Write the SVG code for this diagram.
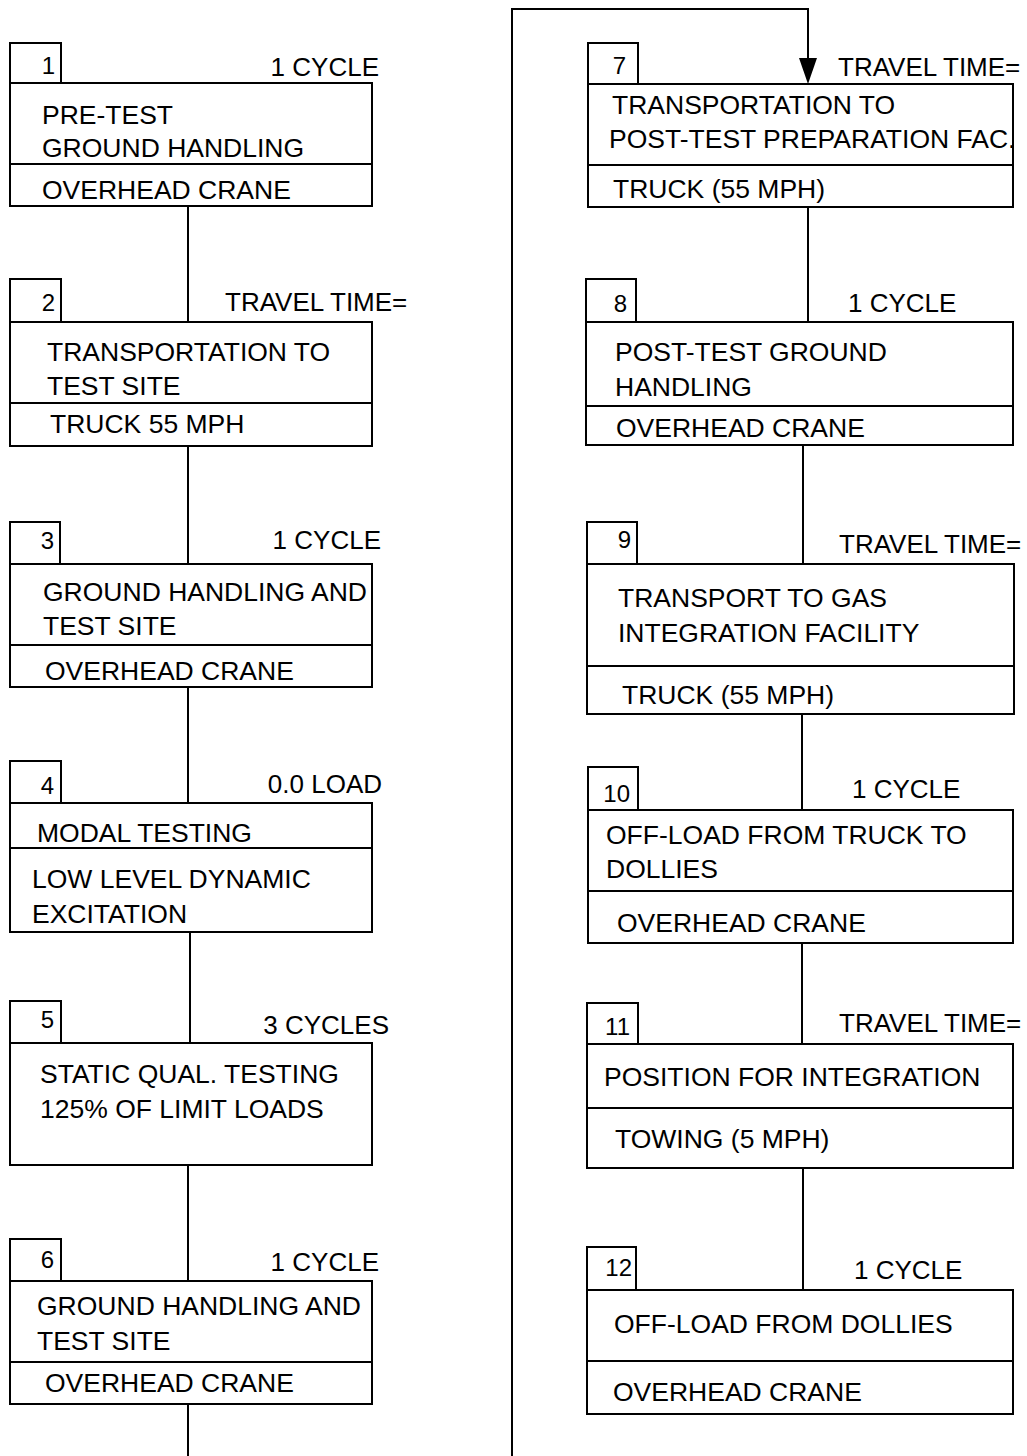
<svg xmlns="http://www.w3.org/2000/svg" width="1027" height="1456" viewBox="0 0 1027 1456">
<style>
.b{fill:#fff;stroke:#000;stroke-width:2}
.d{stroke:#000;stroke-width:2}
.t{font-family:"Liberation Sans",Arial,sans-serif;font-size:26.5px;fill:#000}
.l{font-family:"Liberation Sans",Arial,sans-serif;font-size:26px;fill:#000}
.n{font-family:"Liberation Sans",Arial,sans-serif;font-size:24px;fill:#000;text-anchor:end}
.e{text-anchor:end}
.c{fill:none;stroke:#000;stroke-width:2}
</style>
<rect width="1027" height="1456" fill="#fff"/>
<g id="connectors">
<line class="c" x1="188" y1="206" x2="188" y2="322"/>
<line class="c" x1="188" y1="446" x2="188" y2="564"/>
<line class="c" x1="188" y1="687" x2="188" y2="803"/>
<line class="c" x1="190" y1="932" x2="190" y2="1043"/>
<line class="c" x1="188" y1="1165" x2="188" y2="1281"/>
<line class="c" x1="188" y1="1404" x2="188" y2="1456"/>
<path class="c" d="M512,1456 V9 H808 V58"/>
<path d="M799,58 L817,58 L808,84 Z" fill="#000"/>
<line class="c" x1="808" y1="207" x2="808" y2="322"/>
<line class="c" x1="803" y1="445" x2="803" y2="564"/>
<line class="c" x1="802" y1="714" x2="802" y2="810"/>
<line class="c" x1="802" y1="943" x2="802" y2="1044"/>
<line class="c" x1="803" y1="1168" x2="803" y2="1290"/>
</g>
<g id="node1">
<rect class="b" x="10" y="43" width="51" height="40"/>
<rect class="b" x="10" y="83" width="362" height="123"/>
<line class="d" x1="10" y1="164" x2="372" y2="164"/>
<text class="n" x="55" y="74">1</text>
<text class="l e" x="379" y="76">1 CYCLE</text>
<text class="t" x="42" y="124">PRE-TEST</text>
<text class="t" x="42" y="157">GROUND HANDLING</text>
<text class="t" x="42" y="199">OVERHEAD CRANE</text>
</g>
<g id="node2">
<rect class="b" x="10" y="279" width="51" height="43"/>
<rect class="b" x="10" y="322" width="362" height="124"/>
<line class="d" x1="10" y1="403" x2="372" y2="403"/>
<text class="n" x="55" y="311">2</text>
<text class="l" x="225" y="311">TRAVEL TIME=</text>
<text class="t" x="47" y="361">TRANSPORTATION TO</text>
<text class="t" x="47" y="395">TEST SITE</text>
<text class="t" x="50" y="433">TRUCK 55 MPH</text>
</g>
<g id="node3">
<rect class="b" x="10" y="522" width="50" height="42"/>
<rect class="b" x="10" y="564" width="362" height="123"/>
<line class="d" x1="10" y1="645" x2="372" y2="645"/>
<text class="n" x="54" y="549">3</text>
<text class="l e" x="381" y="549">1 CYCLE</text>
<text class="t" x="43" y="601">GROUND HANDLING AND</text>
<text class="t" x="43" y="635">TEST SITE</text>
<text class="t" x="45" y="680">OVERHEAD CRANE</text>
</g>
<g id="node4">
<rect class="b" x="10" y="761" width="51" height="42"/>
<rect class="b" x="10" y="803" width="362" height="129"/>
<line class="d" x1="10" y1="848" x2="372" y2="848"/>
<text class="n" x="54" y="794">4</text>
<text class="l e" x="382" y="793">0.0 LOAD</text>
<text class="t" x="37" y="842">MODAL TESTING</text>
<text class="t" x="32" y="888">LOW LEVEL DYNAMIC</text>
<text class="t" x="32" y="923">EXCITATION</text>
</g>
<g id="node5">
<rect class="b" x="10" y="1001" width="51" height="42"/>
<rect class="b" x="10" y="1043" width="362" height="122"/>
<text class="n" x="54" y="1028">5</text>
<text class="l e" x="389" y="1034">3 CYCLES</text>
<text class="t" x="40" y="1083">STATIC QUAL. TESTING</text>
<text class="t" x="40" y="1118">125% OF LIMIT LOADS</text>
</g>
<g id="node6">
<rect class="b" x="10" y="1239" width="51" height="42"/>
<rect class="b" x="10" y="1281" width="362" height="123"/>
<line class="d" x1="10" y1="1362" x2="372" y2="1362"/>
<text class="n" x="54" y="1268">6</text>
<text class="l e" x="379" y="1271">1 CYCLE</text>
<text class="t" x="37" y="1315">GROUND HANDLING AND</text>
<text class="t" x="37" y="1350">TEST SITE</text>
<text class="t" x="45" y="1392">OVERHEAD CRANE</text>
</g>
<g id="node7">
<rect class="b" x="588" y="43" width="50" height="41"/>
<rect class="b" x="588" y="84" width="425" height="123"/>
<line class="d" x1="588" y1="165" x2="1013" y2="165"/>
<text class="n" x="626" y="74">7</text>
<text class="l" x="838" y="76">TRAVEL TIME=</text>
<text class="t" x="612" y="114">TRANSPORTATION TO</text>
<text class="t" x="609" y="148">POST-TEST PREPARATION FAC.</text>
<text class="t" x="613" y="198">TRUCK (55 MPH)</text>
</g>
<g id="node8">
<rect class="b" x="586" y="279" width="50" height="43"/>
<rect class="b" x="586" y="322" width="427" height="123"/>
<line class="d" x1="586" y1="406" x2="1013" y2="406"/>
<text class="n" x="627" y="312">8</text>
<text class="l" x="848" y="312">1 CYCLE</text>
<text class="t" x="615" y="361">POST-TEST GROUND</text>
<text class="t" x="615" y="396">HANDLING</text>
<text class="t" x="616" y="437">OVERHEAD CRANE</text>
</g>
<g id="node9">
<rect class="b" x="587" y="522" width="50" height="42"/>
<rect class="b" x="587" y="564" width="427" height="150"/>
<line class="d" x1="587" y1="666" x2="1014" y2="666"/>
<text class="n" x="631" y="548">9</text>
<text class="l" x="839" y="553">TRAVEL TIME=</text>
<text class="t" x="618" y="607">TRANSPORT TO GAS</text>
<text class="t" x="618" y="642">INTEGRATION FACILITY</text>
<text class="t" x="622" y="704">TRUCK (55 MPH)</text>
</g>
<g id="node10">
<rect class="b" x="588" y="767" width="50" height="43"/>
<rect class="b" x="588" y="810" width="425" height="133"/>
<line class="d" x1="588" y1="891" x2="1013" y2="891"/>
<text class="n" x="630" y="802">10</text>
<text class="l" x="852" y="798">1 CYCLE</text>
<text class="t" x="606" y="844">OFF-LOAD FROM TRUCK TO</text>
<text class="t" x="606" y="878">DOLLIES</text>
<text class="t" x="617" y="932">OVERHEAD CRANE</text>
</g>
<g id="node11">
<rect class="b" x="587" y="1003" width="51" height="41"/>
<rect class="b" x="587" y="1044" width="426" height="124"/>
<line class="d" x1="587" y1="1108" x2="1013" y2="1108"/>
<text class="n" x="630" y="1035">11</text>
<text class="l" x="839" y="1032">TRAVEL TIME=</text>
<text class="t" x="604" y="1086">POSITION FOR INTEGRATION</text>
<text class="t" x="615" y="1148">TOWING (5 MPH)</text>
</g>
<g id="node12">
<rect class="b" x="587" y="1247" width="49" height="43"/>
<rect class="b" x="587" y="1290" width="426" height="124"/>
<line class="d" x1="587" y1="1361" x2="1013" y2="1361"/>
<text class="n" x="632" y="1276">12</text>
<text class="l" x="854" y="1279">1 CYCLE</text>
<text class="t" x="614" y="1333">OFF-LOAD FROM DOLLIES</text>
<text class="t" x="613" y="1401">OVERHEAD CRANE</text>
</g>
</svg>
